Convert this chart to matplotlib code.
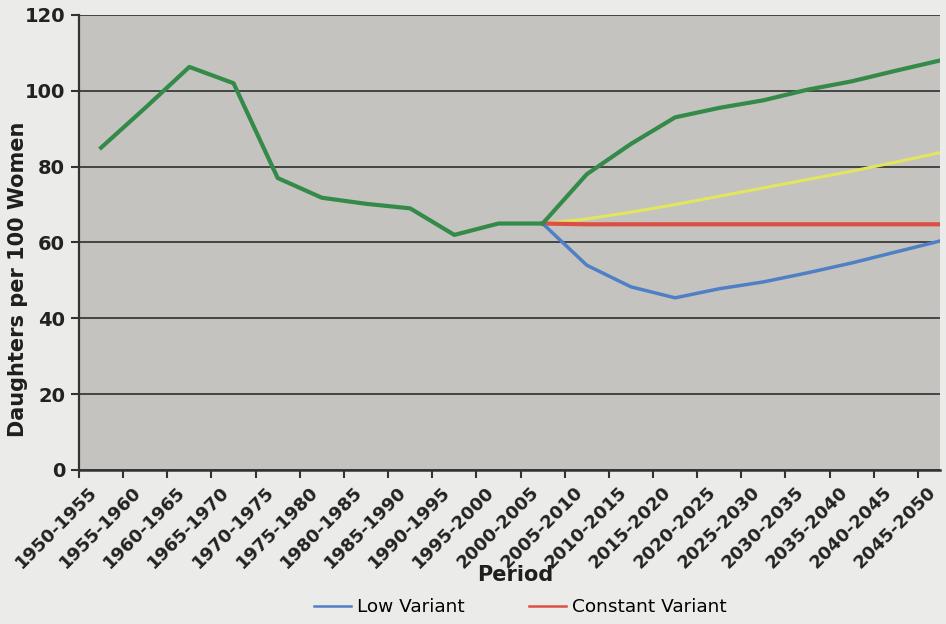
import numpy as np
import matplotlib
matplotlib.use('Agg')
import matplotlib.pyplot as plt
from matplotlib.transforms import ScaledTranslation

# Five-year periods on the category axis
periods = ['1950-1955', '1955-1960', '1960-1965', '1965-1970', '1970-1975',
           '1975-1980', '1980-1985', '1985-1990', '1990-1995', '1995-2000',
           '2000-2005', '2005-2010', '2010-2015', '2015-2020', '2020-2025',
           '2025-2030', '2030-2035', '2035-2040', '2040-2045', '2045-2050']

# Observed values (1950-2005), shared by all variants
observed = [85, 95.5, 106.3, 102, 77, 71.8, 70.2, 69, 62, 65, 65]

# Projections 2005-2050
high_variant = [78, 86, 93, 95.5, 97.5, 100.3, 102.5, 105.3, 108]
medium_variant = [66.2, 68, 70, 72.2, 74.4, 76.6, 78.8, 81.2, 83.7]
constant_variant = [64.8, 64.8, 64.8, 64.8, 64.8, 64.8, 64.8, 64.8, 64.8]
low_variant = [54, 48.3, 45.4, 47.8, 49.6, 52, 54.6, 57.5, 60.4]

x = np.arange(len(periods))
split = len(observed) - 1
x_proj = x[split:]

fig = plt.figure(figsize=(9.46, 6.24), dpi=100)
fig.patch.set_facecolor('#ebebe9')
ax = fig.add_axes([0.0835, 0.2468, 0.9102, 0.7292])
ax.set_facecolor('#c4c3bf')

ax.plot(x_proj, [observed[-1]] + medium_variant, color='#e3e65c', lw=2.2, zorder=3)
const_line, = ax.plot(x_proj, [observed[-1]] + constant_variant, color='#dd4f45', lw=3,
                      zorder=3)
low_line, = ax.plot(x_proj, [observed[-1]] + low_variant, color='#4f7fc4', lw=2.5, zorder=3)
ax.plot(x_proj, [observed[-1]] + high_variant, color='#348a48', lw=3, zorder=4)
ax.plot(x[:split + 1], observed, color='#348a48', lw=3, zorder=4)

ax.set_xlim(-0.5, 19.0)
ax.set_ylim(0, 120)
ax.set_yticks(np.arange(0, 121, 20))
ax.yaxis.grid(True, color='#3a3a3a', lw=1.3)
ax.set_axisbelow(True)

# Tick marks sit between categories; period labels are placed under each point
ax.set_xticks(np.arange(-0.5, 19.5, 1.0))
ax.set_xticklabels([])
ax.tick_params(axis='x', length=6, width=1.5, color='#333333', direction='out')
label_trans = ax.get_xaxis_transform() + ScaledTranslation(-0.13, -0.13, fig.dpi_scale_trans)
for xi, name in zip(x, periods):
    ax.text(xi, 0, name, transform=label_trans, rotation=45, ha='right', va='top',
            rotation_mode='anchor', fontsize=13, fontweight='bold', color='#222222',
            clip_on=False)

ax.tick_params(axis='y', length=6, width=1.5, color='#333333', labelsize=14,
               pad=4, labelcolor='#222222')
for lbl in ax.get_yticklabels():
    lbl.set_fontweight('bold')

for side in ['top', 'right']:
    ax.spines[side].set_visible(False)
ax.spines['left'].set_color('#333333')
ax.spines['left'].set_linewidth(1.6)
ax.spines['bottom'].set_color('#333333')
ax.spines['bottom'].set_linewidth(1.8)

ax.set_ylabel('Daughters per 100 Women', fontsize=15, fontweight='bold',
              color='#1e1e1e')
ax.yaxis.set_label_coords(-0.059, 0.42)
fig.text(0.5445, 0.078, 'Period', fontsize=15, fontweight='heavy',
         color='#1e1e1e', ha='center', va='center')

fig.legend(handles=[low_line, const_line], labels=['Low Variant', 'Constant Variant'],
           loc='center', bbox_to_anchor=(0.55, 0.027), ncol=2, frameon=False,
           fontsize=13.3, handlelength=2.0, handletextpad=0.3, columnspacing=3.5)
for h in fig.legends[0].get_lines():
    h.set_linewidth(1.8)

fig.savefig('out.png', dpi=100, facecolor=fig.get_facecolor())
